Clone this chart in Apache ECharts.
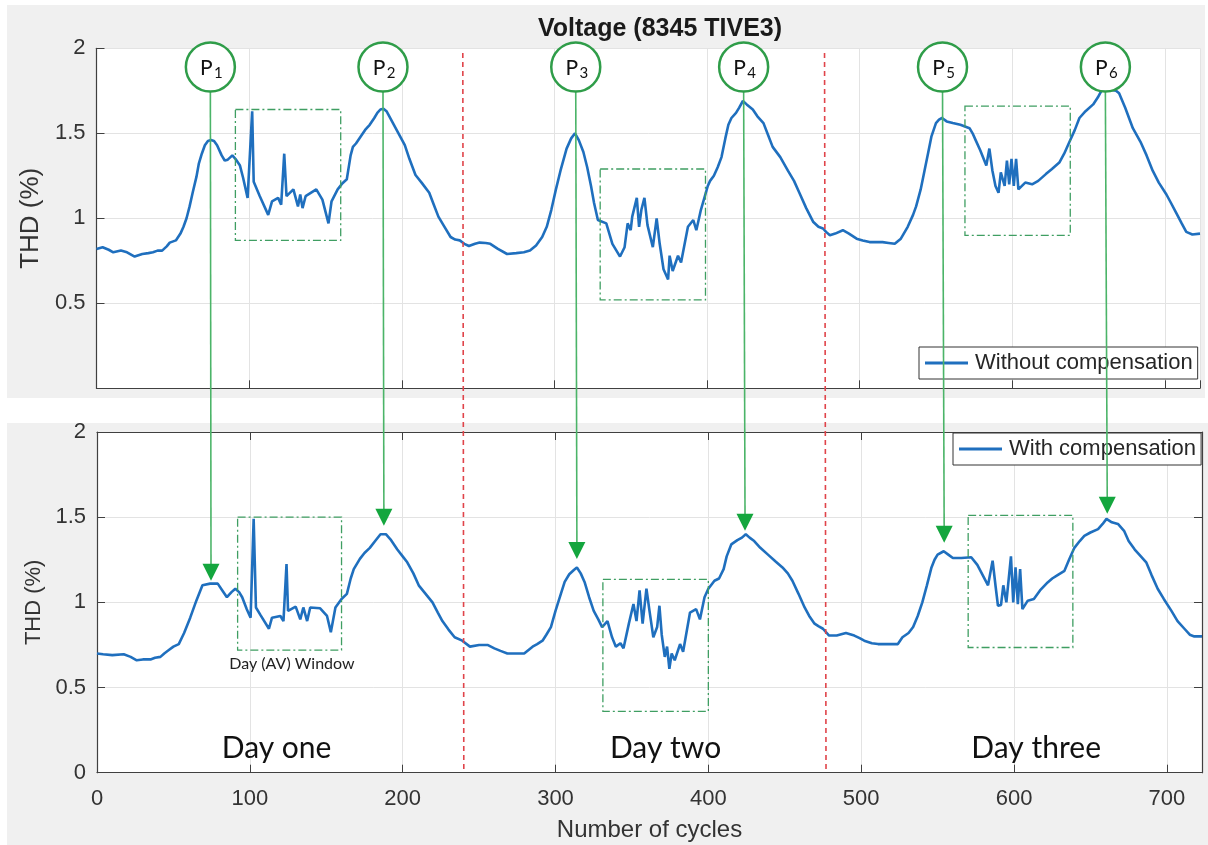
<!DOCTYPE html>
<html>
<head>
<meta charset="utf-8">
<title>Voltage THD</title>
<script src="https://cdn.jsdelivr.net/npm/echarts/dist/echarts.min.js"></script>
<style>
  html, body { margin: 0; padding: 0; background: #ffffff; }
  #chart { width: 1208px; height: 845px; }
</style>
</head>
<body>
<div id="chart"></div>
<script>
// THD of voltage at bus 8345 (TIVE3) over three days, without and with compensation
const topCycles = [
  0, 4, 8, 11, 16, 20, 25, 30, 34, 37,
  40, 43, 46, 48, 52, 55, 57, 59, 61, 63,
  65.5, 67, 69, 71, 73, 75, 77, 79, 82, 84,
  86, 89, 91, 94, 96, 99, 102, 103, 107, 112.5,
  115, 119, 121, 123, 124.5, 129, 132, 133.5, 135, 137,
  144, 148, 152, 154, 158, 161, 164, 166.5, 168, 170,
  173, 176, 179, 182, 184, 186, 188, 190, 193, 196,
  199, 202, 205, 209, 213, 218, 221, 224, 228, 232,
  235, 238, 241, 244, 248, 251, 255, 258, 263, 269,
  275, 280, 284, 288, 292, 295, 298, 301, 304, 308,
  311, 313.5, 316, 319, 321.5, 324, 326, 328.5, 334, 338,
  343, 346, 348, 350, 351, 354, 355.5, 357, 359, 361,
  364.5, 367, 369, 371.5, 374.5, 375.5, 377.5, 381, 383, 387.5,
  391, 393, 396, 400.5, 402, 404.5, 407, 409.5, 412, 414,
  416, 419, 421, 423.5, 426, 430, 433, 437, 440, 443,
  448, 453, 457, 460.5, 465, 469.5, 473, 476, 478, 480.5,
  484, 489, 493, 498, 502, 506.5, 511, 515, 519, 523,
  527, 531.5, 535, 537, 540, 542.5, 545, 547, 550, 552,
  554, 557, 561, 566, 572, 574, 576, 579, 583, 585,
  587, 589, 591, 592.5, 595, 596.5, 598, 599.5, 601, 602.5,
  604, 608.5, 613, 617, 622, 626, 631, 634, 637.5, 641,
  644, 648, 653, 656, 659, 662, 665, 668, 670, 674,
  679, 684, 688, 692, 696, 701, 704, 707.5, 711, 714,
  718, 723
];
const topTHD = [
  0.82, 0.83, 0.815, 0.80, 0.81, 0.80, 0.775, 0.79, 0.795, 0.80,
  0.81, 0.81, 0.835, 0.857, 0.87, 0.91, 0.95, 1.00, 1.07, 1.15,
  1.245, 1.32, 1.38, 1.43, 1.455, 1.46, 1.455, 1.43, 1.37, 1.34,
  1.345, 1.37, 1.35, 1.31, 1.24, 1.12, 1.63, 1.215, 1.13, 1.02,
  1.10, 1.12, 1.08, 1.38, 1.13, 1.17, 1.07, 1.14, 1.06, 1.13,
  1.17, 1.11, 0.97, 1.10, 1.17, 1.205, 1.23, 1.37, 1.42, 1.44,
  1.48, 1.52, 1.55, 1.59, 1.62, 1.64, 1.645, 1.63, 1.58, 1.53,
  1.48, 1.43, 1.35, 1.255, 1.21, 1.15, 1.08, 1.01, 0.95, 0.89,
  0.875, 0.87, 0.85, 0.837, 0.85, 0.857, 0.855, 0.85, 0.82, 0.79,
  0.795, 0.80, 0.81, 0.84, 0.89, 0.95, 1.05, 1.17, 1.28, 1.41,
  1.47, 1.50, 1.46, 1.39, 1.30, 1.19, 1.09, 0.99, 0.97, 0.85,
  0.775, 0.83, 0.97, 0.93, 1.01, 1.12, 0.95, 1.05, 1.12, 0.96,
  0.83, 1.00, 0.85, 0.70, 0.64, 0.78, 0.69, 0.78, 0.74, 0.95,
  0.99, 0.93, 1.05, 1.19, 1.22, 1.25, 1.30, 1.36, 1.47, 1.55,
  1.59, 1.62, 1.65, 1.69, 1.67, 1.64, 1.60, 1.56, 1.49, 1.42,
  1.36, 1.28, 1.22, 1.15, 1.06, 0.98, 0.95, 0.94, 0.92, 0.90,
  0.91, 0.93, 0.91, 0.88, 0.87, 0.86, 0.86, 0.86, 0.855, 0.85,
  0.88, 0.95, 1.02, 1.07, 1.17, 1.28, 1.39, 1.48, 1.56, 1.58,
  1.59, 1.57, 1.56, 1.55, 1.53, 1.50, 1.46, 1.40, 1.31, 1.41,
  1.28, 1.19, 1.15, 1.27, 1.19, 1.34, 1.20, 1.35, 1.19, 1.35,
  1.17, 1.21, 1.20, 1.22, 1.26, 1.29, 1.33, 1.38, 1.45, 1.52,
  1.59, 1.63, 1.67, 1.71, 1.76, 1.76, 1.755, 1.75, 1.735, 1.65,
  1.53, 1.45, 1.37, 1.28, 1.21, 1.14, 1.09, 1.03, 0.97, 0.92,
  0.905, 0.91
];

const bottomCycles = [
  0, 4, 10, 17.5, 22, 26, 30, 35, 38, 41.5,
  44, 47, 50, 53.5, 57, 61, 65, 69, 74, 77,
  79, 82, 85, 88, 90.5, 93, 95, 98, 100.5, 102.5,
  104, 107, 112.5, 114.5, 120, 122, 124, 125, 130, 133,
  135, 137.5, 139.5, 146, 150.5, 153, 156, 160, 163.5, 166,
  168, 172, 175, 178.5, 182, 185.5, 189, 192, 196.5, 200,
  203, 207, 210.5, 215, 219.5, 223, 226, 230, 234, 239,
  244, 250, 255.5, 260, 264, 268.5, 274, 279.5, 285, 288,
  291.5, 294, 297, 300, 303.5, 306, 309, 312, 314, 316.5,
  319, 322, 325, 328, 330.5, 334, 337, 339.5, 342.5, 344.5,
  348, 351, 353, 355, 357, 359.5, 361.5, 364, 366.5, 368,
  369.5, 371.5, 373, 374.5, 376, 378, 381.5, 383.5, 388, 392,
  394.5, 397.5, 400, 404, 407, 410, 412, 415, 419, 422,
  424.5, 427, 430, 434, 439, 444, 448.5, 452, 455, 459,
  463, 466, 469.5, 472, 475, 479, 484, 490, 495.5, 499,
  502, 507, 511, 517, 524, 527, 531, 534, 537, 540,
  543, 546, 548, 550, 554, 557, 560, 565.5, 572, 576,
  583, 586, 588, 589.5, 591.5, 593, 595, 598, 599.5, 601,
  602.5, 604, 605.5, 609, 613, 617, 622, 625, 628.5, 633,
  636, 639.5, 643, 646, 650, 655, 658, 660.5, 664, 668,
  672, 675, 679, 683, 686.5, 690, 694, 698, 703, 707,
  711.5, 715, 718, 723
];
const bottomTHD = [
  0.70, 0.695, 0.69, 0.695, 0.68, 0.66, 0.665, 0.665, 0.675, 0.68,
  0.70, 0.72, 0.74, 0.755, 0.82, 0.91, 1.01, 1.10, 1.11, 1.11,
  1.11, 1.07, 1.03, 1.06, 1.08, 1.06, 1.03, 0.96, 0.91, 1.49,
  0.97, 0.925, 0.845, 0.91, 0.92, 0.89, 1.225, 0.95, 0.975, 0.90,
  0.97, 0.89, 0.97, 0.965, 0.92, 0.825, 0.97, 1.02, 1.05, 1.14,
  1.195, 1.255, 1.29, 1.32, 1.36, 1.40, 1.40, 1.37, 1.31, 1.27,
  1.235, 1.17, 1.10, 1.05, 1.00, 0.94, 0.89, 0.84, 0.795, 0.775,
  0.74, 0.75, 0.75, 0.73, 0.715, 0.70, 0.70, 0.70, 0.74, 0.755,
  0.775, 0.81, 0.855, 0.95, 1.05, 1.12, 1.165, 1.19, 1.205, 1.17,
  1.12, 1.03, 0.95, 0.90, 0.855, 0.89, 0.795, 0.74, 0.76, 0.73,
  0.875, 0.99, 0.89, 1.07, 0.875, 1.08, 0.95, 0.795, 0.855, 0.98,
  0.81, 0.68, 0.74, 0.61, 0.70, 0.66, 0.755, 0.71, 0.94, 0.96,
  0.90, 1.03, 1.08, 1.127, 1.14, 1.195, 1.27, 1.34, 1.365, 1.38,
  1.40, 1.38, 1.36, 1.32, 1.28, 1.24, 1.205, 1.17, 1.127, 1.05,
  0.97, 0.92, 0.875, 0.86, 0.845, 0.805, 0.805, 0.82, 0.805, 0.79,
  0.775, 0.76, 0.755, 0.755, 0.755, 0.795, 0.82, 0.855, 0.92, 1.00,
  1.10, 1.205, 1.25, 1.28, 1.30, 1.28, 1.26, 1.26, 1.265, 1.22,
  1.10, 1.245, 1.09, 0.98, 0.985, 1.10, 1.00, 1.27, 1.00, 1.205,
  0.99, 1.195, 0.96, 1.01, 1.02, 1.07, 1.117, 1.14, 1.16, 1.185,
  1.25, 1.32, 1.36, 1.39, 1.41, 1.43, 1.46, 1.49, 1.47, 1.46,
  1.42, 1.36, 1.31, 1.27, 1.235, 1.16, 1.08, 1.02, 0.95, 0.89,
  0.845, 0.81, 0.80, 0.80
];

// peak markers P1..P6: cycle, circle level (top panel), arrow tip level (bottom panel)
const peakCycles = [74.6, 187.7, 314, 424, 554.3, 661];
const peakIndex = ['1', '2', '3', '4', '5', '6'];
const peakMarkerTHD = 1.89;
const peakArrowTHD = [1.127, 1.45, 1.255, 1.42, 1.35, 1.52];

// day boundaries and daytime (AV) windows: [fromCycle, toCycle, lowTHD, highTHD]
const dayBounds = [240, 477];
const topWindows = [[91, 160, 0.87, 1.64], [330, 399, 0.52, 1.29], [569, 638, 0.90, 1.66]];
const bottomWindows = [[92, 160, 0.72, 1.50], [331, 400, 0.36, 1.135], [570, 638.5, 0.735, 1.51]];
const dayNames = ['Day one', 'Day two', 'Day three'];
const dayNameCycles = [117.5, 372, 614.5];
const dayNameTHD = 0.145;
const windowNote = 'Day (AV) Window';
const windowNoteAt = [127.5, 0.64];

const xMax = 723;
const xStep = 100;
const yStep = 0.5;

const axisColor = '#404040';
const labelColor = '#333333';
const gridColor = '#e3e3e3';
const lineBlue = '#1f6fbe';
const sansFont = '"Liberation Sans", Arial, sans-serif';
const noteFont = 'Lato, "Open Sans", sans-serif';

const chart = echarts.init(document.getElementById('chart'), null, { renderer: 'canvas' });

function xAxisBase(gridIndex) {
  return {
    gridIndex: gridIndex,
    type: 'value',
    min: 0,
    max: xMax,
    interval: xStep,
    axisLine: { show: true, onZero: false, lineStyle: { color: axisColor, width: 1.2 } },
    axisTick: { show: true, inside: true, length: 8, lineStyle: { color: axisColor } },
    splitLine: { show: true, lineStyle: { color: gridColor, width: 1 } },
    axisLabel: { show: false }
  };
}
function yAxisBase(gridIndex) {
  return {
    gridIndex: gridIndex,
    type: 'value',
    min: 0,
    max: 2,
    interval: yStep,
    axisLine: { show: true, onZero: false, lineStyle: { color: axisColor, width: 1.2 } },
    axisTick: { show: true, inside: true, length: 8, lineStyle: { color: axisColor } },
    splitLine: { show: true, lineStyle: { color: gridColor, width: 1 } },
    axisLabel: { show: true, color: labelColor, fontSize: 22, fontFamily: sansFont, margin: 11 }
  };
}

const xTop = xAxisBase(0);
const xBottom = xAxisBase(1);
xBottom.axisLabel = {
  show: true, color: labelColor, fontSize: 22, fontFamily: sansFont, margin: 15,
  formatter: v => (v % xStep === 0 ? String(v) : '')
};
xBottom.name = 'Number of cycles';
xBottom.nameLocation = 'middle';
xBottom.nameGap = 46;
xBottom.nameTextStyle = { color: labelColor, fontSize: 24, fontFamily: sansFont };
const xBottomBox = xAxisBase(1);
xBottomBox.position = 'top';
xBottomBox.splitLine = { show: false };

const yTop = yAxisBase(0);
yTop.axisLabel.formatter = v => (v === 0 ? '' : String(v));
yTop.name = 'THD (%)';
yTop.nameLocation = 'middle';
yTop.nameGap = 53;
yTop.nameTextStyle = { color: labelColor, fontSize: 26, fontFamily: sansFont };
const yBottom = yAxisBase(1);
yBottom.name = 'THD (%)';
yBottom.nameLocation = 'middle';
yBottom.nameGap = 52;
yBottom.nameTextStyle = { color: labelColor, fontSize: 22, fontFamily: sansFont };
const yBottomBox = yAxisBase(1);
yBottomBox.position = 'right';
yBottomBox.splitLine = { show: false };
yBottomBox.axisLabel = { show: false };

function legendAt(name, left, top) {
  return {
    data: [name],
    left: left, top: top,
    icon: 'rect', itemWidth: 43, itemHeight: 3, itemGap: 0,
    padding: [5, 5, 5, 6],
    borderColor: '#333333', borderWidth: 1, borderRadius: 0,
    backgroundColor: '#ffffff',
    textStyle: { color: '#262626', fontSize: 22, fontFamily: sansFont, padding: [0, 0, 0, 2] }
  };
}

const option = {
  backgroundColor: '#ffffff',
  animation: false,
  title: {
    text: 'Voltage (8345 TIVE3)',
    left: 655,
    top: 12,
    textAlign: 'center',
    textStyle: { fontSize: 25, fontWeight: 'bold', color: '#1a1a1a', fontFamily: sansFont }
  },
  grid: [
    { left: 96.5, top: 48.3, width: 1103.5, height: 340, show: true, backgroundColor: '#ffffff', borderWidth: 0 },
    { left: 97, top: 432, width: 1105, height: 340.7, show: true, backgroundColor: '#ffffff', borderWidth: 0 }
  ],
  xAxis: [xTop, xBottom, xBottomBox],
  yAxis: [yTop, yBottom, yBottomBox],
  legend: [
    legendAt('Without compensation', 919, 347),
    legendAt('With compensation', 953, 433)
  ],
  series: [
    {
      name: 'Without compensation', type: 'line', xAxisIndex: 0, yAxisIndex: 0,
      data: topCycles.map((c, i) => [c, topTHD[i]]),
      symbol: 'none', showSymbol: false,
      lineStyle: { color: lineBlue, width: 2.6 }, itemStyle: { color: lineBlue }, z: 3
    },
    {
      name: 'With compensation', type: 'line', xAxisIndex: 1, yAxisIndex: 1,
      data: bottomCycles.map((c, i) => [c, bottomTHD[i]]),
      symbol: 'none', showSymbol: false,
      lineStyle: { color: lineBlue, width: 2.6 }, itemStyle: { color: lineBlue }, z: 3
    }
  ]
};
chart.setOption(option);

// annotations placed through the axes' own scales
const toTop = (c, v) => chart.convertToPixel({ gridIndex: 0 }, [c, v]);
const toBottom = (c, v) => chart.convertToPixel({ gridIndex: 1 }, [c, v]);

const g = [];
// figure panels behind each axes
g.push({ type: 'rect', z: -1, silent: true, shape: { x: 7, y: 5, width: 1198, height: 393 }, style: { fill: '#f0f0f0' } });
g.push({ type: 'rect', z: -1, silent: true, shape: { x: 7, y: 423, width: 1201, height: 422 }, style: { fill: '#f0f0f0' } });

// day boundaries
dayBounds.forEach(c => {
  const a = toTop(c, 1.99);
  const b = toBottom(c, 0);
  g.push({ type: 'line', z: 10, silent: true, shape: { x1: a[0], y1: a[1] + 3, x2: b[0], y2: b[1] - 1 },
    style: { stroke: '#e0444a', lineWidth: 1.6, lineDash: [5, 4] } });
});

// daytime windows
function windowRect(w, conv) {
  const p1 = conv(w[0], w[3]);
  const p2 = conv(w[1], w[2]);
  g.push({ type: 'rect', z: 10, silent: true,
    shape: { x: p1[0], y: p1[1], width: p2[0] - p1[0], height: p2[1] - p1[1] },
    style: { fill: 'none', stroke: '#3f9e62', lineWidth: 1.3, lineDash: [8, 3, 2, 3] } });
}
topWindows.forEach(w => windowRect(w, toTop));
bottomWindows.forEach(w => windowRect(w, toBottom));

// peak markers and arrows
const circleR = 24.5;
const triH = 17, triW = 17;
peakCycles.forEach((c, i) => {
  const centre = toTop(c, peakMarkerTHD);
  const tip = toBottom(c, peakArrowTHD[i]);
  g.push({ type: 'line', z: 11, silent: true,
    shape: { x1: centre[0], y1: centre[1] + circleR, x2: tip[0], y2: tip[1] - triH + 1 },
    style: { stroke: '#4bb468', lineWidth: 1.6 } });
  g.push({ type: 'polygon', z: 12, silent: true,
    shape: { points: [[tip[0] - triW / 2, tip[1] - triH], [tip[0] + triW / 2, tip[1] - triH], [tip[0], tip[1]]] },
    style: { fill: '#14a63e' } });
  g.push({ type: 'circle', z: 12, silent: true,
    shape: { cx: centre[0], cy: centre[1], r: circleR },
    style: { fill: '#ffffff', stroke: '#2f9d49', lineWidth: 2.5 } });
  g.push({ type: 'text', z: 13, silent: true,
    style: { text: 'P', x: centre[0] - 4, y: centre[1] + 1, fill: '#111111', fontSize: 21, fontFamily: noteFont, align: 'center', verticalAlign: 'middle' } });
  g.push({ type: 'text', z: 13, silent: true,
    style: { text: peakIndex[i], x: centre[0] + 8, y: centre[1] + 6, fill: '#111111', fontSize: 15, fontFamily: noteFont, align: 'center', verticalAlign: 'middle' } });
});

// day names and window note
dayNames.forEach((name, i) => {
  const p = toBottom(dayNameCycles[i], dayNameTHD);
  g.push({ type: 'text', z: 13, silent: true,
    style: { text: name, x: p[0], y: p[1], fill: '#111111', fontSize: 30, fontFamily: noteFont, align: 'center', verticalAlign: 'middle' } });
});
const noteAt = toBottom(windowNoteAt[0], windowNoteAt[1]);
g.push({ type: 'text', z: 13, silent: true,
  style: { text: windowNote, x: noteAt[0], y: noteAt[1], fill: '#222222', fontSize: 16, fontFamily: noteFont, align: 'center', verticalAlign: 'middle' } });

chart.setOption({ graphic: g });
</script>
</body>
</html>
